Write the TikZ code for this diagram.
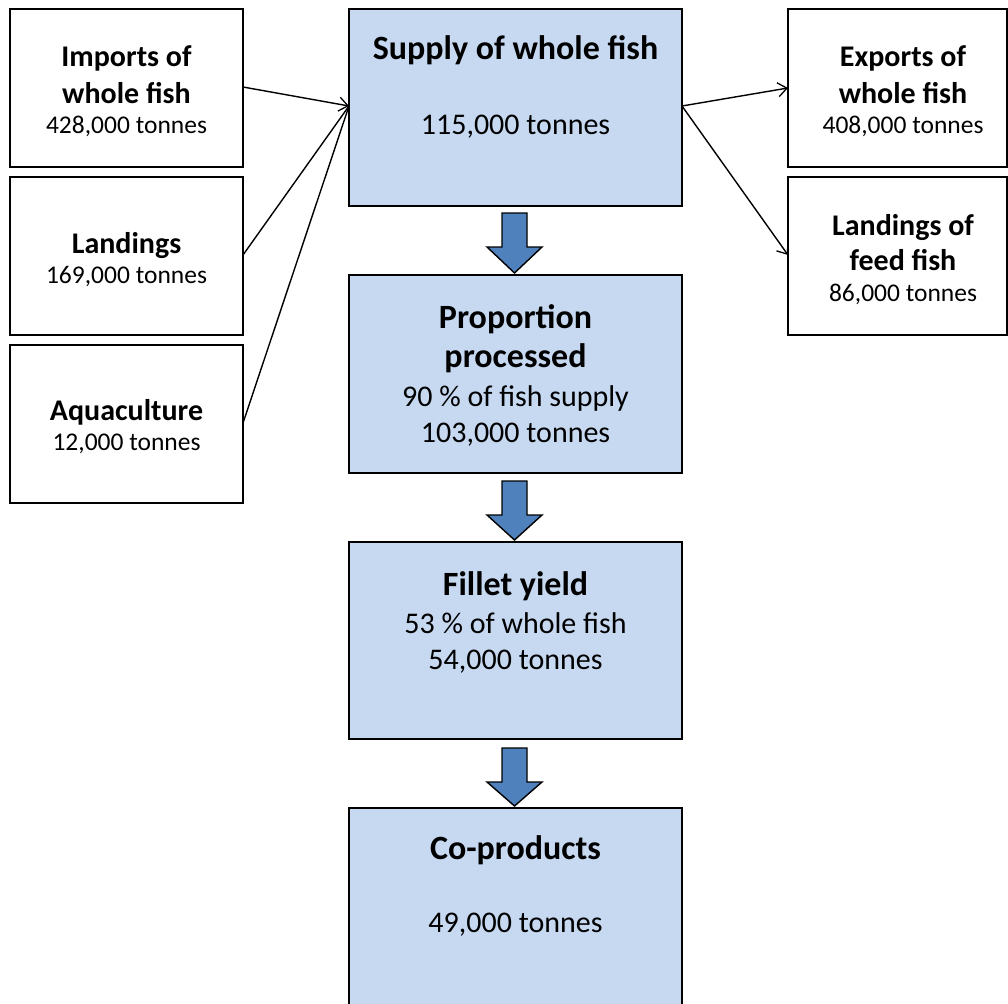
\documentclass[tikz,border=0pt]{standalone}
\usepackage{fontspec}
\setmainfont{Carlito}
\usetikzlibrary{arrows.meta}
\definecolor{boxblue}{HTML}{C6D9F1}
\definecolor{arrowblue}{HTML}{4F81BD}
\begin{document}
\begin{tikzpicture}[x=1pt,y=-1pt,
  wbox/.style={draw=black,line width=1.6pt,fill=white},
  bbox/.style={draw=black,line width=1.6pt,fill=boxblue},
  big/.style={font=\fontsize{34}{40}\selectfont\bfseries,anchor=base,inner sep=0pt},
  mid/.style={font=\fontsize{30}{36}\selectfont,anchor=base,inner sep=0pt},
  sbig/.style={font=\fontsize{30}{36}\selectfont\bfseries,anchor=base,inner sep=0pt},
  smid/.style={font=\fontsize{25.5}{30}\selectfont,anchor=base,inner sep=0pt},
  conn/.style={line width=1.4pt},
  tip/.style={-{Straight Barb[length=9pt,width=14pt,line width=1.3pt]}},
  blockarrow/.style={draw=black,line width=1.4pt,fill=arrowblue,line join=miter}]
\useasboundingbox (0,0) rectangle (1008,1003);
% left boxes
\draw[wbox] (10,9) rectangle (243,167);
\coordinate (l1) at (243,87);
\draw[wbox] (10,177) rectangle (243,335);
\coordinate (l2) at (243,255);
\draw[wbox] (10,345) rectangle (243,503);
\coordinate (l3) at (243,423);
% right boxes
\draw[wbox] (788,9) rectangle (1007,167);
\coordinate (r1) at (788,88);
\draw[wbox] (788,177) rectangle (1007,335);
\coordinate (r2) at (788,255);
% center boxes
\draw[bbox] (349,9) rectangle (682,206);
\coordinate (cin) at (349,106);
\coordinate (cout) at (682,106);
\draw[bbox] (349,275) rectangle (682,473);
\draw[bbox] (349,542) rectangle (682,739);
\draw[bbox] (349,808) rectangle (682,1010);
% block arrows
\foreach \t/\b in {213/273, 481/540, 748/806}{
  \draw[blockarrow] (502,\t) -- (527,\t) -- (527,\t+34) -- (542,\t+34) -- (514.5,\b) -- (487,\t+34) -- (502,\t+34) -- cycle;
}
% connectors
\draw[conn,tip] (l1) -- (cin);
\draw[conn] (l2) -- (cin);
\draw[conn] (l3) -- (cin);
\draw[conn,tip] (cout) -- (r1);
\draw[conn,tip] (cout) -- (r2);
% texts center
\node[big] (t1) at (515.5,60) {Supply of whole fish};
\node[mid] (t2) at (515.5,135) {115,000 tonnes};
\node[big] (t3) at (515.5,328) {Proportion};
\node[big] (t4) at (515.5,367) {processed};
\node[mid] (t5) at (515.5,406) {90 \% of fish supply};
\node[mid] (t6) at (515.5,442.5) {103,000 tonnes};
\node[big] (t7) at (515.5,595) {Fillet yield};
\node[mid] (t8) at (515.5,633) {53 \% of whole fish};
\node[mid] (t9) at (515.5,669.5) {54,000 tonnes};
\node[big] (t10) at (515.5,859) {Co-products};
\node[mid] (t11) at (515.5,932) {49,000 tonnes};
% left texts
\node[sbig] (a1) at (126.5,67) {Imports of};
\node[sbig] (a2) at (126.5,103.5) {whole fish};
\node[smid] (a3) at (126.5,134) {428,000 tonnes};
\node[sbig] (b1) at (126.5,253) {Landings};
\node[smid] (b2) at (126.5,283.5) {169,000 tonnes};
\node[sbig] (c1) at (126.5,420) {Aquaculture};
\node[smid] (c2) at (126.5,450.5) {12,000 tonnes};
% right texts
\node[sbig] (d1) at (903,67) {Exports of};
\node[sbig] (d2) at (903,103.5) {whole fish};
\node[smid] (d3) at (903,134) {408,000 tonnes};
\node[sbig] (e1) at (903,235) {Landings of};
\node[sbig] (e2) at (903,270.5) {feed fish};
\node[smid] (e3) at (903,301.5) {86,000 tonnes};
\end{tikzpicture}
\end{document}
